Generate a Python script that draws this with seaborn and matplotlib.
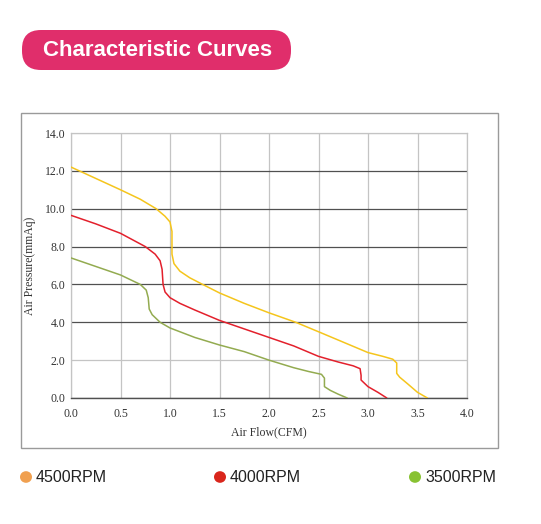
import pandas as pd
import matplotlib.pyplot as plt
import seaborn as sns
from matplotlib.patches import FancyBboxPatch, Rectangle

# curves (air flow CFM, air pressure mmAq)
flow_4500 = [0.0, 0.25, 0.5, 0.7, 0.86, 0.95, 1.0, 1.02, 1.02, 1.04, 1.1, 1.2, 1.33, 1.5, 1.75,
             2.0, 2.27, 2.5, 2.75, 3.0, 3.15, 3.25, 3.29, 3.29, 3.32, 3.4, 3.5, 3.6]
pres_4500 = [12.2, 11.6, 11.0, 10.5, 10.0, 9.6, 9.3, 8.8, 7.6, 7.1, 6.7, 6.35, 6.0, 5.55, 5.0,
             4.5, 4.0, 3.5, 2.95, 2.4, 2.2, 2.05, 1.85, 1.3, 1.1, 0.75, 0.3, 0.0]

flow_4000 = [0.0, 0.25, 0.5, 0.75, 0.85, 0.9, 0.92, 0.93, 0.95, 1.0, 1.1, 1.25, 1.5, 1.75, 2.0,
             2.25, 2.5, 2.7, 2.85, 2.92, 2.93, 2.93, 3.0, 3.1, 3.19]
pres_4000 = [9.65, 9.2, 8.7, 8.0, 7.6, 7.25, 6.8, 6.0, 5.6, 5.3, 5.0, 4.65, 4.1, 3.65, 3.2,
             2.75, 2.2, 1.9, 1.7, 1.55, 1.2, 0.95, 0.6, 0.3, 0.0]

flow_3500 = [0.0, 0.25, 0.5, 0.7, 0.76, 0.78, 0.79, 0.82, 0.9, 1.0, 1.25, 1.5, 1.75, 2.0, 2.25,
             2.4, 2.53, 2.56, 2.56, 2.62, 2.7, 2.79]
pres_3500 = [7.4, 6.95, 6.5, 6.0, 5.7, 5.3, 4.7, 4.4, 4.0, 3.7, 3.2, 2.8, 2.45, 2.0, 1.6,
             1.4, 1.25, 1.05, 0.6, 0.4, 0.2, 0.0]

labels = ["4500RPM", "4000RPM", "3500RPM"]
line_colors = ["#F5C51C", "#E3202C", "#93AB50"]
dot_colors = ["#F0A050", "#D9261C", "#88C232"]

x_ticks = [0.0, 0.5, 1.0, 1.5, 2.0, 2.5, 3.0, 3.5, 4.0]
y_ticks = [0.0, 2.0, 4.0, 6.0, 8.0, 10.0, 12.0, 14.0]

frames = []
for lab, fx, py in zip(labels, [flow_4500, flow_4000, flow_3500], [pres_4500, pres_4000, pres_3500]):
    frames.append(pd.DataFrame({"flow": fx, "pressure": py, "rpm": lab}))
df = pd.concat(frames, ignore_index=True)

sns.set_style("white")
plt.rcParams["font.family"] = ["Liberation Serif", "DejaVu Serif"]

fig = plt.figure(figsize=(5.41, 5.24), dpi=100)

# outer frame around the chart
fig.patches.append(Rectangle((21 / 541, 1 - 448 / 524), 477 / 541, 335 / 524,
                             transform=fig.transFigure, fill=False, edgecolor="#9a9a9a", lw=1.0))

ax = fig.add_axes([71 / 541, 1 - 398 / 524, 396 / 541, 265 / 524])
sns.lineplot(data=df, x="flow", y="pressure", hue="rpm", palette=line_colors,
             sort=False, estimator=None, units="rpm", lw=1.1, legend=False, ax=ax, zorder=3)

ax.set_xlim(0, 4)
ax.set_ylim(0, 14)
ax.set_xticks(x_ticks)
ax.set_yticks(y_ticks)
ax.set_xticklabels([f"{v:.1f}" for v in x_ticks], fontsize=8.5, color="#333333")
ax.set_yticklabels([f"{v:.1f}" for v in y_ticks], fontsize=8.5, color="#333333")
ax.set_xlabel("Air Flow(CFM)", fontsize=8.5, color="#333333", labelpad=5)
ax.set_ylabel("Air Pressure(mmAq)", fontsize=8.5, color="#333333", labelpad=6)

ax.grid(True, axis="x", color="#c4c4c4", lw=0.9)
ax.grid(True, axis="y", color="#505050", lw=0.9)
for gl, v in zip(ax.get_ygridlines(), y_ticks):
    if v in (2.0, 14.0):
        gl.set_color("#c4c4c4")
for side in ["top", "left", "right"]:
    ax.spines[side].set_color("#c4c4c4")
    ax.spines[side].set_linewidth(0.9)
ax.spines["bottom"].set_color("#505050")
ax.spines["bottom"].set_linewidth(1.0)
ax.tick_params(axis="x", direction="out", length=4, width=0.8, color="#505050", pad=3)
ax.tick_params(axis="y", length=0, pad=4)

# title banner
fig.patches.append(FancyBboxPatch((22 / 541, 1 - 70 / 524), 269 / 541, 40 / 524,
                                  boxstyle="round,pad=0,rounding_size=0.035",
                                  transform=fig.transFigure, facecolor="#E02E6B",
                                  edgecolor="none", mutation_aspect=541 / 524))
fig.text(158 / 541, 1 - 50 / 524, "Characteristic Curves", ha="center", va="center",
         fontsize=16, fontweight="bold", color="white", family=["Liberation Sans", "DejaVu Sans"])

# legend row
for i, (lab, c) in enumerate(zip(labels, dot_colors)):
    x0 = [26, 220, 415][i] / 541
    fig.patches.append(plt.Circle((x0, 1 - 477 / 524), 6 / 541, transform=fig.transFigure,
                                  facecolor=c, edgecolor="none"))
    fig.text(x0 + 10 / 541, 1 - 477 / 524, lab, ha="left", va="center", fontsize=11.5,
             color="#222222", family=["Liberation Sans", "DejaVu Sans"])

fig.savefig("out.png", dpi=100)
